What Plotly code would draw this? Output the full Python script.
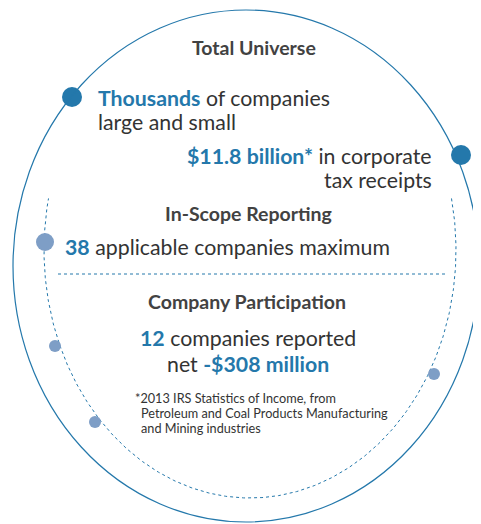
import numpy as np
import plotly.graph_objects as go

W, H = 481, 524
OFF = 8  # browser body margin
BLUE = "#2478ab"
DOT_LIGHT = "#7e9ec6"
GREY = "#333333"
HEAD = "#424242"

# Text content
headers = ["Total Universe", "In-Scope Reporting", "Company Participation"]
header_y = [47, 213, 301]
header_x = [254, 248, 247]

stat_values = ["Thousands", "$11.8 billion*", "38", "12", "-$308 million"]
footnote_lines = ["*2013 IRS Statistics of Income, from",
                  "Petroleum and Coal Products Manufacturing",
                  "and Mining industries"]

# Dot markers (outer ring, inner ring)
outer_dot_x = [72, 461]
outer_dot_y = [97, 155]
inner_dot_x = [45, 55, 95, 434]
inner_dot_y = [242, 346, 422, 374]
inner_dot_size = [18, 12, 12, 12]

fig = go.Figure()

# inner dashed arc (ellipse portion)
cx, cy, rx, ry = 250, 250, 206, 248
t = np.linspace(np.deg2rad(-12), np.deg2rad(192), 400)
ax = cx + rx * np.cos(t)
ay = cy + ry * np.sin(t)
fig.add_trace(go.Scatter(x=ax, y=ay, mode="lines",
                         line=dict(color=BLUE, width=1, dash="3px,3px"),
                         hoverinfo="skip", showlegend=False))

# horizontal dashed divider
fig.add_shape(type="line", x0=58, x1=445, y0=274, y1=274,
              line=dict(color=BLUE, width=1, dash="3px,3px"))

# outer ellipse
fig.add_shape(type="circle", x0=13, x1=479, y0=10, y1=522,
              line=dict(color=BLUE, width=1.2))

fig.add_trace(go.Scatter(x=outer_dot_x, y=outer_dot_y, mode="markers",
                         marker=dict(color=BLUE, size=20, opacity=1, line=dict(width=0)),
                         hoverinfo="skip", showlegend=False))
fig.add_trace(go.Scatter(x=inner_dot_x, y=inner_dot_y, mode="markers",
                         marker=dict(color=DOT_LIGHT, size=inner_dot_size, opacity=1,
                                     line=dict(width=0)),
                         hoverinfo="skip", showlegend=False))

F = "Lato, 'Open Sans', sans-serif"

def ann(x, y, text, size, xanchor="center", color=GREY):
    fig.add_annotation(x=x, y=y, text=text, showarrow=False, xanchor=xanchor,
                       yanchor="middle", font=dict(family=F, size=size, color=color),
                       xref="x", yref="y")

for hx, hy, h in zip(header_x, header_y, headers):
    ann(hx, hy, f"<b>{h}</b>", 19.5, color=HEAD)

def b(v):
    return f"<b><span style='color:{BLUE}'>{v}</span></b>"

BS = 21.3
ann(96, 98, f"{b(stat_values[0])} of companies", BS, xanchor="left")
ann(96, 122, "large and small", BS, xanchor="left")
ann(434, 156, f"{b(stat_values[1])} in corporate", BS, xanchor="right")
ann(434, 180, "tax receipts", BS, xanchor="right")
ann(63, 247, f"{b(stat_values[2])} applicable companies maximum", BS, xanchor="left")
ann(248, 338, f"{b(stat_values[3])} companies reported", BS)
ann(248, 364, f"net {b(stat_values[4])}", BS)

fy = [398, 413, 428]
fx = [133, 139, 139]
for x, y, line in zip(fx, fy, footnote_lines):
    ann(x, y, line, 12.7, xanchor="left")

fig.update_xaxes(range=[OFF, OFF + W], visible=False, fixedrange=True)
fig.update_yaxes(range=[OFF + H, OFF], visible=False, fixedrange=True)
fig.update_layout(width=W, height=H, margin=dict(l=0, r=0, t=0, b=0),
                  paper_bgcolor="white", plot_bgcolor="white")

fig.write_html("out.html")
